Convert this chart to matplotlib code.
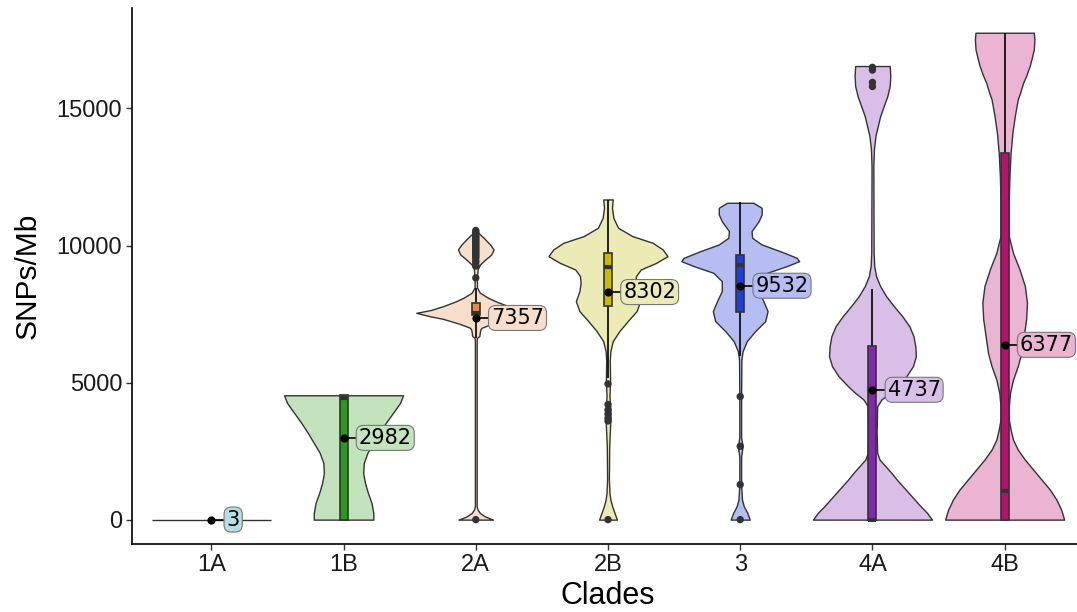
import numpy as np
import matplotlib.pyplot as plt

clades = ["1A", "1B", "2A", "2B", "3", "4A", "4B"]

violin_fill = ["#B5DEE5", "#C3E3BC", "#F7DFCC", "#EDEBB5", "#B5BDF2", "#D9BFE8", "#EAB4D2"]
box_fill = ["#4FB9CC", "#2A9A1E", "#E88B4A", "#CCBA00", "#1F3FD8", "#8526B0", "#B8106E"]

# violin outlines: SNPs/Mb level, relative half width
dens_y = {
    "1A": [0, 3],
    "1B": [0, 243, 608, 973, 1338, 1703, 2068, 2433, 2798, 3163, 3528, 3893, 4258, 4537],
    "2A": [0, 120, 243, 365, 487, 800, 3000, 6500, 6630, 6700, 6860, 6950, 7000, 7143,
           7325, 7420, 7544, 7650, 7787, 7950, 8090, 8275, 8470, 8800, 9125, 9308, 9490,
           9672, 9855, 10038, 10285, 10450, 10560],
    "2B": [0, 243, 487, 730, 973, 1460, 2676, 3650, 4015, 4490, 5110, 5800, 6144, 6510,
           6875, 7240, 7605, 7970, 8335, 8639, 8882, 9125, 9368, 9612, 9855, 10099, 10342,
           10646, 11011, 11376, 11680],
    "3": [0, 243, 487, 730, 1278, 2300, 2676, 3000, 4490, 5840, 6144, 6510, 6875, 7240,
          7605, 7970, 8335, 8699, 9003, 9247, 9429, 9551, 9794, 10038, 10282, 10525, 10890,
          11133, 11376, 11559],
    "4A": [0, 243, 486, 730, 973, 1217, 1460, 1703, 1947, 2190, 2433, 3163, 4136, 4380,
           4623, 4867, 5232, 5597, 5962, 6327, 6692, 7057, 7422, 7787, 8152, 8517, 8882,
           9247, 9733, 12897, 13505, 13992, 14357, 14722, 15087, 15452, 15817, 16182,
           16547],
    "4B": [0, 365, 730, 1095, 1460, 1825, 2190, 2555, 2920, 3285, 3650, 4137, 4623, 5110,
           5597, 6083, 6692, 7300, 7908, 8517, 9125, 9733, 10342, 11680, 12500, 13384,
           14113, 14720, 14965, 15330, 15573, 15937, 16182, 16547, 16790, 17155, 17520,
           17762],
}
dens_w = {
    "1A": [1.0, 1.0],
    "1B": [0.5, 0.5, 0.47, 0.41, 0.36, 0.33, 0.34, 0.4, 0.5, 0.6, 0.71, 0.83, 0.95, 1.0],
    "2A": [0.29, 0.15, 0.07, 0.03, 0.015, 0.015, 0.015, 0.015, 0.02, 0.06, 0.07, 0.08, 0.1,
           0.27, 0.55, 0.77, 1.0, 0.75, 0.55, 0.35, 0.21, 0.07, 0.02, 0.02, 0.03, 0.07,
           0.16, 0.26, 0.3, 0.24, 0.13, 0.05, 0.01],
    "2B": [0.15, 0.11, 0.07, 0.04, 0.025, 0.015, 0.02, 0.04, 0.04, 0.025, 0.035, 0.03,
           0.04, 0.08, 0.19, 0.33, 0.48, 0.54, 0.48, 0.46, 0.47, 0.55, 0.81, 1.0, 0.92,
           0.75, 0.41, 0.17, 0.09, 0.067, 0.08],
    "3": [0.16, 0.12, 0.06, 0.03, 0.015, 0.015, 0.04, 0.015, 0.015, 0.02, 0.04, 0.11, 0.25,
          0.42, 0.46, 0.39, 0.31, 0.31, 0.45, 0.78, 0.99, 0.95, 0.67, 0.36, 0.2, 0.19, 0.31,
          0.36, 0.36, 0.22],
    "4A": [1.0, 0.92, 0.81, 0.71, 0.61, 0.51, 0.41, 0.32, 0.22, 0.12, 0.08, 0.07, 0.08,
           0.15, 0.29, 0.41, 0.57, 0.68, 0.73, 0.72, 0.69, 0.62, 0.5, 0.36, 0.23, 0.13,
           0.06, 0.03, 0.02, 0.015, 0.025, 0.05, 0.09, 0.13, 0.19, 0.25, 0.29, 0.3, 0.29],
    "4B": [1.0, 0.95, 0.87, 0.76, 0.62, 0.48, 0.34, 0.22, 0.14, 0.1, 0.07, 0.07, 0.09,
           0.14, 0.22, 0.28, 0.32, 0.36, 0.375, 0.34, 0.25, 0.14, 0.07, 0.07, 0.08, 0.1,
           0.13, 0.17, 0.19, 0.22, 0.26, 0.31, 0.36, 0.42, 0.45, 0.49, 0.5, 0.49],
}

# boxplot stats
q1 = [0, 0, 7450, 7811, 7568, 0, 0]
med = [0, 4450, 7550, 9200, 9307, 0, 1034]
q3 = [3, 4537, 7910, 9709, 9636, 6330, 13384]
whisk_lo = [0, 0, 6640, 5150, 5960, 0, 0]
whisk_hi = [3, 4537, 8450, 11655, 11582, 8420, 17762]
outliers = [
    [],
    [],
    [0, 8820, 9250, 9300, 9400, 9450, 9550, 9600, 9650, 9700, 9750, 9800, 9850, 9900,
     9950, 10000, 10050, 10100, 10150, 10200, 10250, 10300, 10350, 10400, 10450, 10500,
     10550],
    [0, 3600, 3700, 3850, 4000, 4200, 4950],
    [0, 1278, 2676, 4490],
    [15800, 15950, 16400, 16500],
    [],
]

dot_val = [3, 2982, 7357, 8302, 8532, 4737, 6377]
label_txt = ["3", "2982", "7357", "8302", "9532", "4737", "6377"]

fig = plt.figure(figsize=(10.77, 6.12), dpi=100)
ax = fig.add_axes([132 / 1077, 68 / 612, 952 / 1077, 536 / 612])

half = 0.45
bw = 0.06
for i, c in enumerate(clades):
    x = i + 1
    y = np.array(dens_y[c])
    w = np.array(dens_w[c]) * half
    ax.fill_betweenx(y, x - w, x + w, facecolor=violin_fill[i], edgecolor="#333333",
                     linewidth=1.0, zorder=2)
    ax.vlines(x, whisk_lo[i], q1[i], color="black", lw=1.2, zorder=3)
    ax.vlines(x, q3[i], whisk_hi[i], color="black", lw=1.2, zorder=3)
    if q3[i] - q1[i] > 50:
        ax.bar(x, q3[i] - q1[i], bottom=q1[i], width=bw, color=box_fill[i],
               edgecolor="#333333", linewidth=1.2, zorder=4)
        ax.hlines(med[i], x - bw / 2, x + bw / 2, color="#333333", lw=3, zorder=5)
    if outliers[i]:
        ax.scatter([x] * len(outliers[i]), outliers[i], s=28, color="#333333",
                   edgecolor="none", zorder=6)
    # mean dot and label
    ax.plot([x, x + 0.09], [dot_val[i], dot_val[i]], color="black", lw=1.2, zorder=7)
    ax.scatter([x], [dot_val[i]], s=24, color="black", zorder=8)
    ax.text(x + 0.115, dot_val[i], label_txt[i], fontsize=15, family="DejaVu Sans",
            ha="left", va="center", zorder=9,
            bbox=dict(boxstyle="round,pad=0.12,rounding_size=0.35", fc=violin_fill[i],
                      ec="#777777", lw=0.8))

ax.set_xlim(0.4, 7.6)
ax.set_ylim(-889, 18664)
ax.set_xticks(range(1, 8))
ax.set_xticklabels(clades)
ax.set_yticks([0, 5000, 10000, 15000])
ax.set_yticklabels(["0", "5000", "10000", "15000"])
for lab in ax.get_xticklabels() + ax.get_yticklabels():
    lab.set_family("Liberation Sans")
    lab.set_fontsize(17)
    lab.set_color("#1a1a1a")
ax.tick_params(length=4, width=1, color="#333333", pad=3)
for s in ["top", "right"]:
    ax.spines[s].set_visible(False)
for s in ["left", "bottom"]:
    ax.spines[s].set_linewidth(1.2)
ax.set_xlabel("Clades", fontsize=22, family="Liberation Sans", labelpad=4)
ax.set_ylabel("SNPs/Mb", fontsize=21.5, family="Liberation Sans", labelpad=11)

fig.savefig("out.png", dpi=100)
